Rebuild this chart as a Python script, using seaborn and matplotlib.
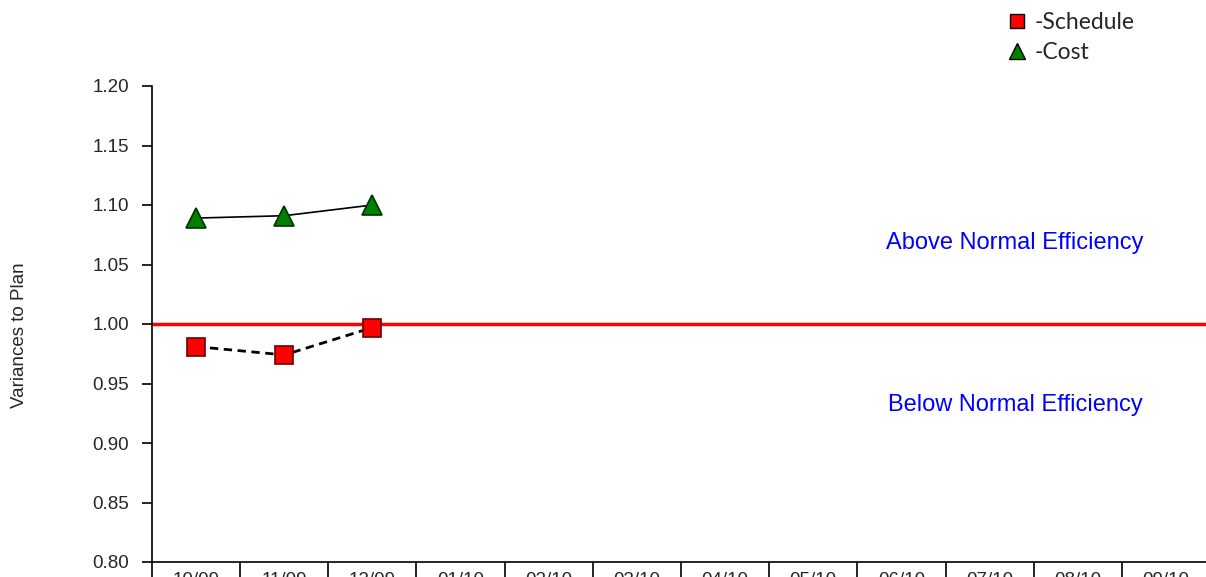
import matplotlib
matplotlib.use("Agg")
import matplotlib.pyplot as plt
import seaborn as sns
import numpy as np
import pandas as pd
from matplotlib.lines import Line2D
from matplotlib.ticker import FixedLocator

months = ["10/09", "11/09", "12/09", "01/10", "02/10", "03/10",
          "04/10", "05/10", "06/10", "07/10", "08/10", "09/10"]
schedule = [0.981, 0.974, 0.997]
cost = [1.089, 1.091, 1.100]
yticks = [0.80, 0.85, 0.90, 0.95, 1.00, 1.05, 1.10, 1.15, 1.20]

sns.set_theme(style="white")
plt.rcParams['font.family'] = ['Liberation Sans', 'DejaVu Sans']

fig = plt.figure(figsize=(12.06, 5.77), dpi=100)
ax = fig.add_axes([152/1206, 1-562/577, (1210-152)/1206, (562-86)/577])

df_s = pd.DataFrame({"x": list(range(len(schedule))), "y": schedule})
df_c = pd.DataFrame({"x": list(range(len(cost))), "y": cost})

ax.axhline(1.0, color="#ff0000", lw=2.5, zorder=1)

sns.lineplot(data=df_s, x="x", y="y", ax=ax, color="black", lw=2.0,
             linestyle=(0, (3, 2)), marker="s", markersize=13,
             markerfacecolor="#ff0000", markeredgecolor="#6a0000",
             markeredgewidth=1.2, zorder=3)
sns.lineplot(data=df_c, x="x", y="y", ax=ax, color="black", lw=1.2,
             marker="^", markersize=14, markerfacecolor="#008000",
             markeredgecolor="#003000", markeredgewidth=1.2, zorder=3)

ax.set_xlim(-0.5, len(months) - 0.5)
ax.set_ylim(0.80, 1.20)
ax.set_yticks(yticks)
ax.set_yticklabels([f"{v:.2f}" for v in yticks], fontsize=13.5)
ax.set_xticks(range(len(months)))
ax.set_xticklabels(months, fontsize=13.5)
ax.xaxis.set_minor_locator(FixedLocator(np.arange(-0.5, len(months), 1.0)))
ax.tick_params(axis="x", which="major", length=0, pad=7)
ax.tick_params(axis="x", which="minor", length=22, width=1.2, color="black",
               direction="out", bottom=True)
ax.tick_params(axis="y", which="major", length=7, width=1.2, color="black",
               direction="out", left=True, pad=9.5)
ax.set_xlabel("")
ax.set_ylabel("Variances to Plan", fontsize=13.5)
ax.yaxis.set_label_coords(-0.117, 0.477)

for s in ["top", "right"]:
    ax.spines[s].set_visible(False)
for s in ["left", "bottom"]:
    ax.spines[s].set_color("black")
    ax.spines[s].set_linewidth(1.2)

ax.text(9.29, 1.068, "Above Normal Efficiency", color="#0000ff",
        fontsize=17, ha="center", va="center")
ax.text(9.29, 0.932, "Below Normal Efficiency", color="#0000ff",
        fontsize=17, ha="center", va="center")

handles = [
    Line2D([], [], linestyle="none", marker="s", markersize=10,
           markerfacecolor="#ff0000", markeredgecolor="black", markeredgewidth=1.0),
    Line2D([], [], linestyle="none", marker="^", markersize=11,
           markerfacecolor="#008000", markeredgecolor="black", markeredgewidth=1.0),
]
leg = fig.legend(handles, ["-Schedule", "-Cost"], loc="upper left",
                 bbox_to_anchor=(999/1206, 1 - 3/577), frameon=False,
                 prop={"family": ["Lato", "DejaVu Sans"], "size": 16.5},
                 handlelength=0.8, handletextpad=0.35, labelspacing=0.4,
                 borderaxespad=0)

fig.savefig("out.png", dpi=100)
